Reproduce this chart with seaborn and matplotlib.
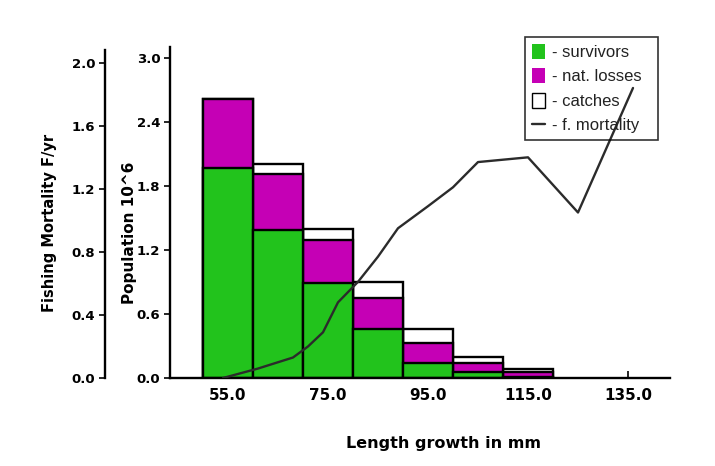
import matplotlib
matplotlib.use("Agg")
import matplotlib.pyplot as plt
import numpy as np
import pandas as pd
import seaborn as sns
from matplotlib.patches import Patch
from matplotlib.lines import Line2D

# ---- data ----
length_mm = [55, 65, 75, 85, 95, 105, 115]
survivors = [1.97, 1.39, 0.89, 0.46, 0.14, 0.06, 0.01]
nat_losses = [0.64, 0.52, 0.40, 0.29, 0.19, 0.08, 0.05]
catches = [0.0, 0.09, 0.11, 0.15, 0.13, 0.06, 0.02]

mort_len = [54, 61, 68, 71, 74, 77, 81, 85, 89, 95, 100, 105, 115, 125, 136]
mort_f = [0.0, 0.06, 0.13, 0.20, 0.29, 0.48, 0.61, 0.77, 0.95, 1.09, 1.21, 1.37, 1.40, 1.05, 1.84]

x_ticks = [55, 75, 95, 115, 135]
x_tick_labels = ["55.0", "75.0", "95.0", "115.0", "135.0"]
pop_ticks = [0.0, 0.6, 1.2, 1.8, 2.4, 3.0]
mort_ticks = [0.0, 0.4, 0.8, 1.2, 1.6, 2.0]
legend_labels = ["- survivors", "- nat. losses", "- catches", "- f. mortality"]

GREEN = "#22c31c"
MAGENTA = "#c500b5"
LINE = "#2b2b2b"

sns.set_theme(style="white")
plt.rcParams["font.family"] = ["DejaVu Sans"]
plt.rcParams["font.weight"] = "bold"

df = pd.DataFrame({"length": length_mm, "surv": survivors,
                   "nat": nat_losses, "catch": catches})
df["surv_nat"] = df["surv"] + df["nat"]
df["total"] = df["surv_nat"] + df["catch"]

fig = plt.figure(figsize=(7.15, 4.66), dpi=100, facecolor="white")
ax = fig.add_axes([170 / 715, 1 - 378 / 466, 500 / 715, 331 / 466])

for col, color in [("total", "white"), ("surv_nat", MAGENTA), ("surv", GREEN)]:
    sns.barplot(data=df, x="length", y=col, native_scale=True, width=1.0,
                color=color, saturation=1, edgecolor="black", linewidth=1.7,
                errorbar=None, ax=ax)

ax.set_xlim(43.4, 143.4)
ax.set_ylim(0, 3.1)
ax.set_xticks(x_ticks)
ax.set_xticklabels(x_tick_labels)
ax.set_yticks(pop_ticks)
ax.set_yticklabels([f"{v:.1f}" for v in pop_ticks])
ax.tick_params(axis="x", direction="in", length=5, width=1.2, bottom=True,
               pad=7, labelsize=11, colors="black")
ax.tick_params(axis="y", direction="out", length=4, width=1.2, left=True,
               pad=3, labelsize=9.5, colors="black")
for s in ["top", "right"]:
    ax.spines[s].set_visible(False)
for s in ["left", "bottom"]:
    ax.spines[s].set_color("black")
    ax.spines[s].set_linewidth(1.7)

ax.set_xlabel("Length growth in mm", fontsize=11.5, fontweight="bold", color="black")
ax.xaxis.set_label_coords(0.546, -0.175)
ax.set_ylabel("Population 10^6", fontsize=11, fontweight="bold", color="black")
ax.yaxis.set_label_coords(-0.066, 0.438)

# fishing mortality on a second axis placed further left
ax2 = ax.twinx()
sns.lineplot(x=mort_len, y=mort_f, ax=ax2, color=LINE, linewidth=1.7)
ax2.set_ylim(0, 2.1)
ax2.set_yticks(mort_ticks)
ax2.set_yticklabels([f"{v:.1f}" for v in mort_ticks])
ax2.yaxis.tick_left()
ax2.yaxis.set_label_position("left")
for s in ["top", "right", "bottom"]:
    ax2.spines[s].set_visible(False)
ax2.spines["left"].set_visible(True)
ax2.spines["left"].set_position(("axes", -0.13))
ax2.spines["left"].set_color("black")
ax2.spines["left"].set_linewidth(1.7)
ax2.spines["left"].set_bounds(0, 2.08)
ax2.tick_params(axis="y", direction="out", length=4, width=1.2, left=True,
                right=False, pad=3, labelsize=9.5, colors="black")
ax2.set_ylabel("Fishing Mortality F/yr", fontsize=10.5, fontweight="bold", color="black")
ax2.yaxis.set_label_coords(-0.226, 0.468)

handles = [
    Patch(facecolor=GREEN, edgecolor="none"),
    Patch(facecolor=MAGENTA, edgecolor="none"),
    Patch(facecolor="white", edgecolor="black", linewidth=1.0),
    Line2D([0], [0], color=LINE, linewidth=1.7),
]
leg = fig.legend(handles, legend_labels, loc="upper left",
                 bbox_to_anchor=(525 / 715, 1 - 137 / 466, 133 / 715, 100 / 466),
                 mode="expand", frameon=True,
                 fancybox=False, edgecolor="black", facecolor="none",
                 prop={"family": "Liberation Sans", "size": 12, "weight": "normal"},
                 handlelength=0.8, handleheight=1.0, handletextpad=0.4,
                 borderpad=0.4, labelspacing=0.5, borderaxespad=0)
leg.get_frame().set_linewidth(1.2)
for t in leg.get_texts():
    t.set_color("#222222")

fig.savefig("out.png", dpi=100, facecolor="white")
